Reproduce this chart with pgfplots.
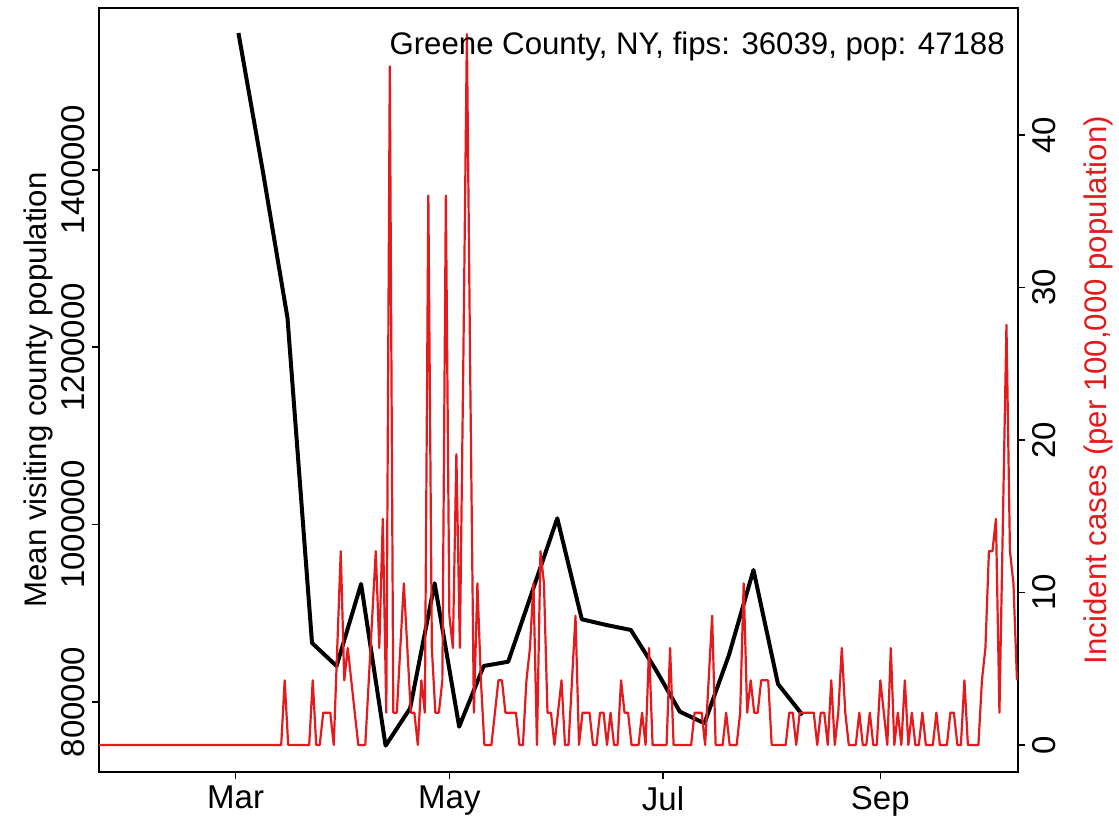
\documentclass[border=0pt]{standalone}
\usepackage{pgfplots}
\pgfplotsset{compat=1.18}
\usepackage{fontspec}
\setmainfont{Liberation Sans}
\definecolor{rred}{RGB}{228,26,28}
\newcommand{\rfont}{\fontsize{15.6}{18}\selectfont}
\newcommand{\tfont}{\fontsize{16.5}{19}\selectfont}
\pgfplotsset{
  base/.style={
    width=459.5pt, height=382pt, scale only axis,
    xmin=-39, xmax=223.3,
    tick align=outside, major tick length=3.6pt,
    every tick/.style={black, line width=0.8pt},
    axis line style={line width=0.8pt},
    /pgf/number format/assume math mode=true,
    tick label style={font=\tfont},
    scaled y ticks=false,
  }
}
\begin{document}
\begin{tikzpicture}
% left axis: mean visiting county population (weekly)
\begin{axis}[base,
  ymin=721082, ymax=1582416,
  xtick={0,61,122,184}, xticklabels={Mar,May,Jul,Sep},
  xtick pos=left, ytick pos=left,
  ytick={800000,1000000,1200000,1400000},
  yticklabels={800000,1000000,1200000,1400000},
  yticklabel style={rotate=90, anchor=south},
  ylabel={Mean visiting county population},
  every axis y label/.style={at={(axis description cs:-0.0664,0.5)}, rotate=90, anchor=center, font=\rfont},
]
\coordinate (O) at (rel axis cs:0,0);
\addplot[black, line width=2pt, line join=round] coordinates {
  (0.8,1554231) (7.8,1397522) (14.8,1232922) (21.8,866517) (28.8,840586)
  (35.8,933033) (42.8,750733) (49.8,792897) (56.8,933822) (63.8,772153)
  (70.8,840586) (77.8,845434) (84.8,926269) (91.8,1007106) (98.8,893236)
  (105.8,886810) (112.8,881173) (119.8,837204) (126.8,789064) (133.8,775986)
  (140.8,852988) (147.8,948817) (154.8,820293) (161.8,785344)
};
\end{axis}
% right axis: daily incident cases per 100,000
\begin{axis}[base,
  ymin=-1.77, ymax=48.33,
  axis x line=none, axis y line*=right,
  ytick={0,10,20,30,40},
  yticklabel style={rotate=90, anchor=north},
  ylabel={Incident cases (per 100,000 population)},
  every axis y label/.style={at={(axis description cs:1.087,0.5)}, rotate=90, anchor=center, text=rred, font=\rfont},
]
\addplot[rred, line width=1.1pt, line join=round] coordinates {
  (-39,0) (13,0) (14,4.24) (15,0) (21,0) (22,4.24) (23,0) (24,0) (25,2.12) (26,2.12)
  (27,2.12) (28,0) (29,6.36) (30,12.71) (31,4.24) (32,6.36) (33,4.24) (34,2.12) (35,0) (36,0)
  (37,0) (38,4.24) (39,8.48) (40,12.71) (41,6.36) (42,14.83) (43,2.12) (44,44.50) (45,2.12) (46,2.12)
  (47,6.36) (48,10.60) (49,6.36) (50,2.12) (51,2.12) (52,0) (53,4.24) (54,2.12) (55,36.03) (56,6.36)
  (57,2.12) (58,2.12) (59,4.24) (60,36.03) (61,8.48) (62,6.36) (63,19.07) (64,6.36) (65,25.43) (66,46.62)
  (67,23.31) (68,2.12) (69,10.60) (70,4.24) (71,0) (72,0) (73,0) (74,2.12) (75,4.24) (76,4.24)
  (77,2.12) (78,2.12) (79,2.12) (80,2.12) (81,0) (82,0) (83,4.24) (84,6.36) (85,10.60) (86,0)
  (87,12.71) (88,10.60) (89,2.12) (90,2.12) (91,0) (92,2.12) (93,4.24) (94,0) (95,0) (96,4.24)
  (97,8.48) (98,0) (99,2.12) (100,2.12) (101,2.12) (102,0) (103,0) (104,2.12) (105,2.12) (106,0)
  (107,2.12) (108,0) (109,0) (110,4.24) (111,2.12) (112,2.12) (113,0) (114,0) (115,0) (116,2.12)
  (117,0) (118,6.36) (119,0) (123,0) (124,6.36) (125,0) (130,0) (131,2.12) (132,2.12) (133,2.12)
  (134,0) (135,4.24) (136,8.48) (137,0) (138,0) (139,0) (140,2.12) (141,0) (142,0) (143,0)
  (144,2.12) (145,10.60) (146,2.12) (147,4.24) (148,2.12) (149,2.12) (150,4.24) (151,4.24) (152,4.24) (153,0)
  (157,0) (158,2.12) (159,2.12) (160,0) (161,2.12) (162,2.12) (163,2.12) (164,2.12) (165,2.12) (166,0)
  (167,2.12) (168,2.12) (169,0) (170,4.24) (171,0) (172,2.12) (173,6.36) (174,2.12) (175,0) (177,0)
  (178,2.12) (179,0) (180,0) (181,2.12) (182,0) (183,0) (184,4.24) (185,2.12) (186,0) (187,6.36)
  (188,0) (189,2.12) (190,0) (191,4.24) (192,0) (193,2.12) (194,0) (195,0) (196,2.12) (197,0)
  (199,0) (200,2.12) (201,0) (203,0) (204,2.12) (205,2.12) (206,0) (207,0) (208,4.24) (209,0)
  (212,0) (213,4.24) (214,6.36) (215,12.71) (216,12.71) (217,14.83) (218,2.12) (219,14.83) (220,27.55) (221,12.71)
  (222,10.60) (223,4.24)
};
\node[anchor=east, inner sep=0pt, font=\rfont] at (rel axis cs:0.986,0.95) {Greene County, NY, fips: 36039, pop: 47188};
\end{axis}
\pgfresetboundingbox
\path (O) ++(-49.5pt,-25pt) rectangle ++(559.5pt,411pt);
\end{tikzpicture}
\end{document}
